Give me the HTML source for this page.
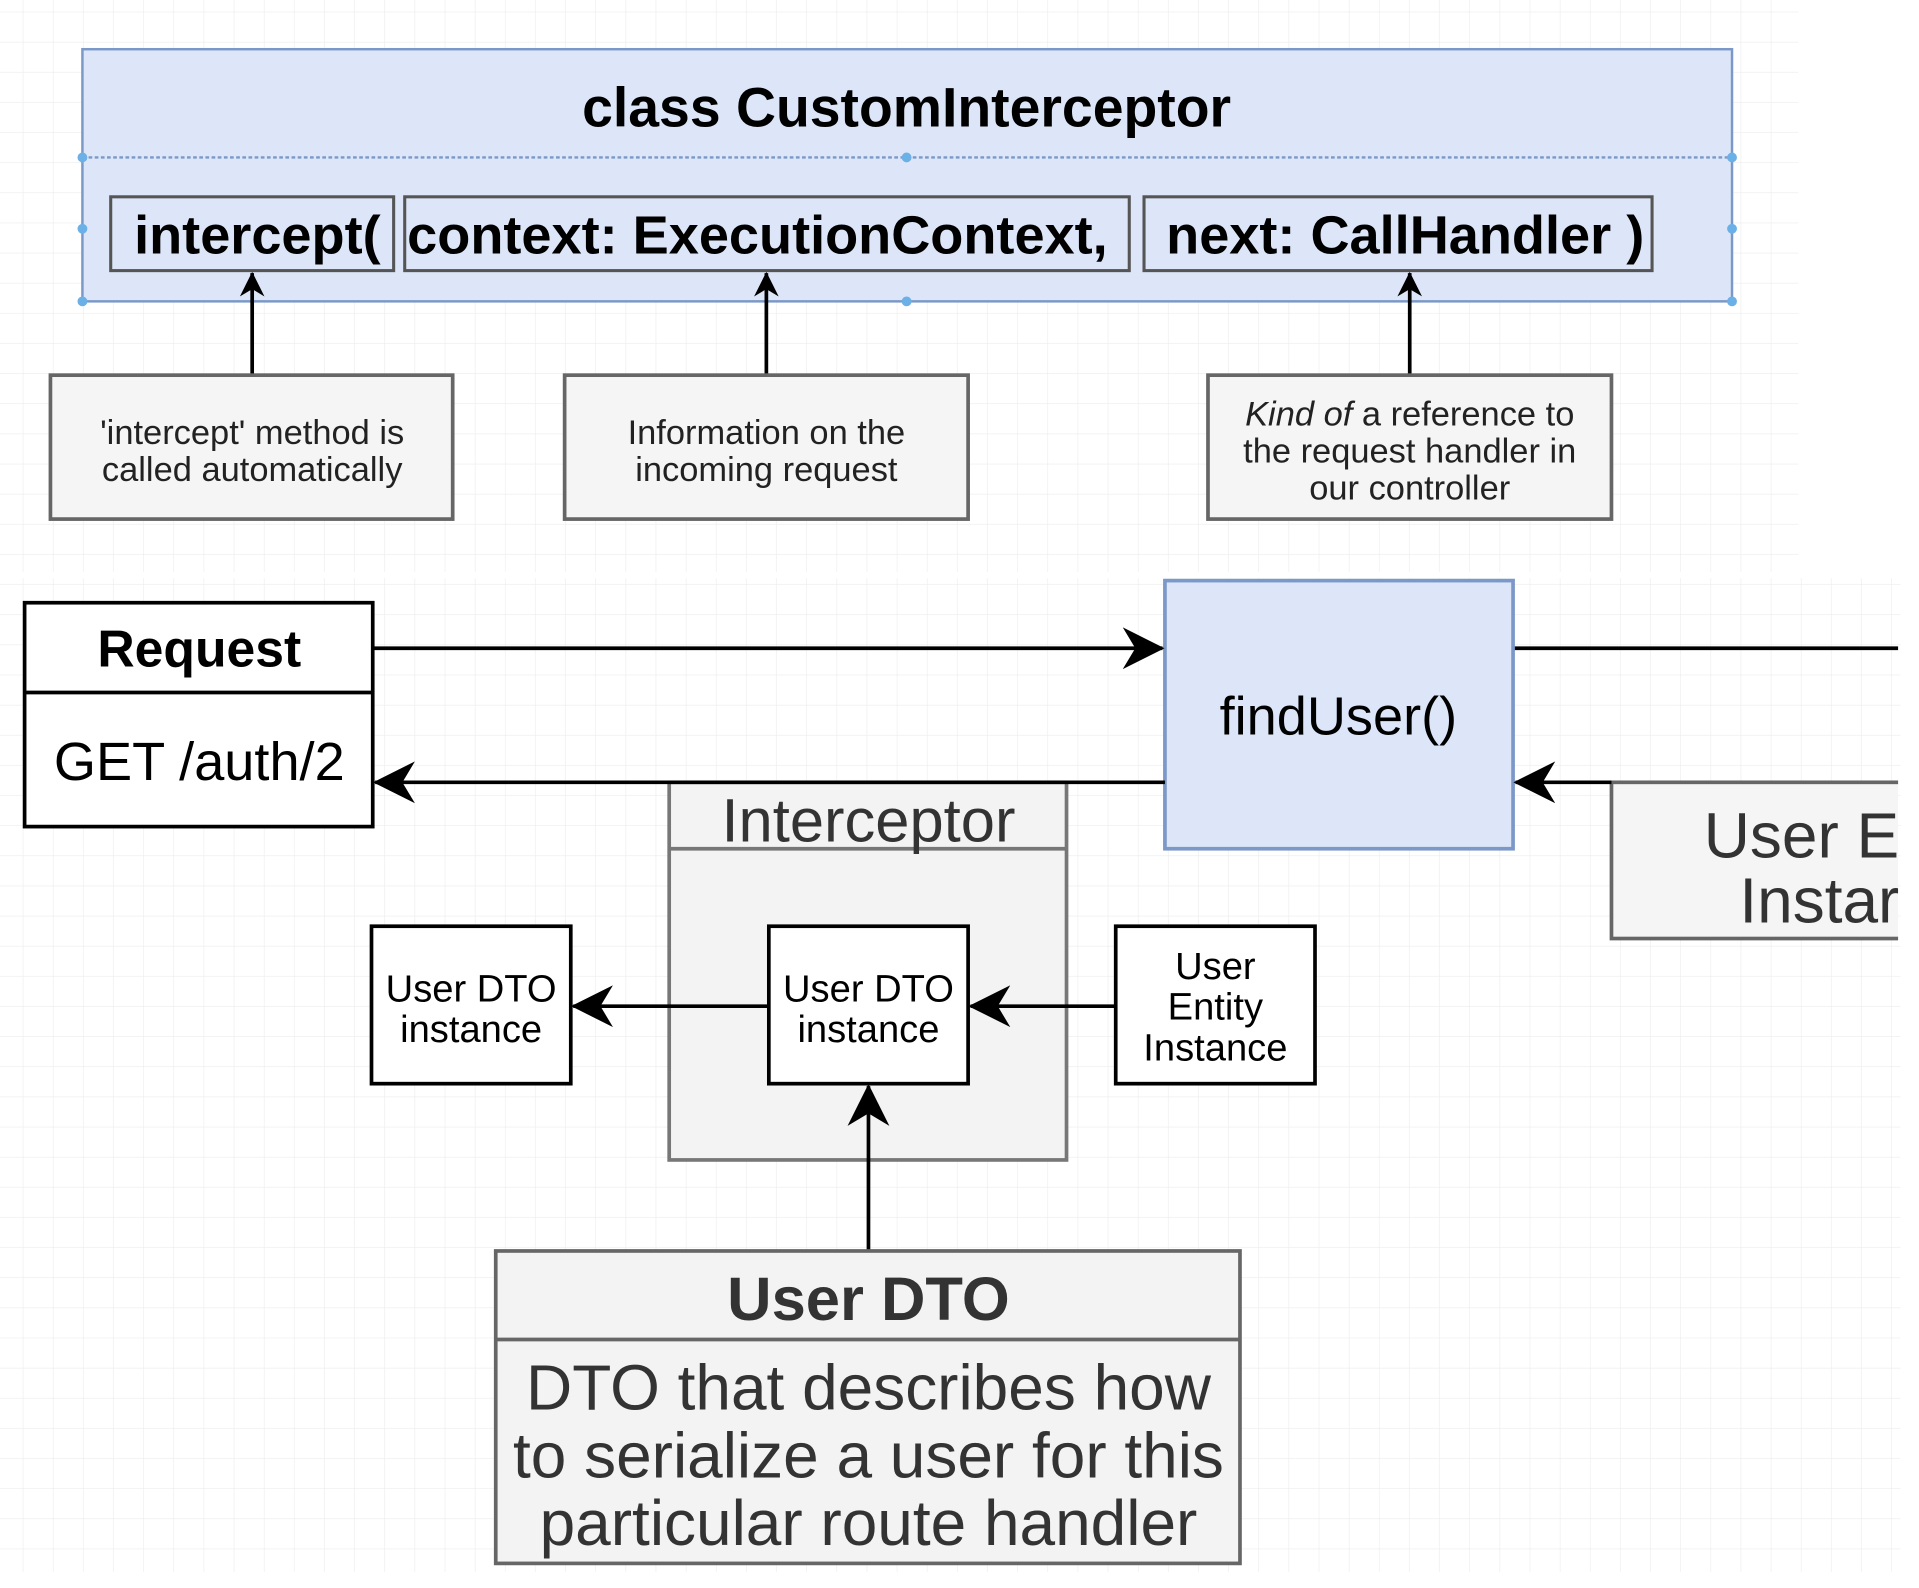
<!DOCTYPE html>
<html><head><meta charset="utf-8"><style>
html,body{margin:0;padding:0;background:#fff;overflow:hidden}
svg{display:block}
text{font-family:"Liberation Sans",sans-serif}
</style></head><body>
<svg width="1919" height="1588" viewBox="0 0 1560 1291" preserveAspectRatio="none" xmlns="http://www.w3.org/2000/svg">
<defs>
<pattern id="g" width="24.5" height="24.5" patternUnits="userSpaceOnUse" x="19" y="10">
<path d="M24.5 0V24.5H0" fill="none" stroke="#ececec" stroke-width="1"/>
</pattern>
<marker id="a" viewBox="0 0 20 20" refX="19" refY="10" markerWidth="20" markerHeight="20" markerUnits="userSpaceOnUse" orient="auto">
<path d="M0 0 L20 10 L0 20 L6 10 Z" fill="#000"/></marker>
<marker id="b" viewBox="0 0 20 20" refX="19" refY="10" markerWidth="34" markerHeight="34" markerUnits="userSpaceOnUse" orient="auto">
<path d="M0 0 L20 10 L0 20 L6 10 Z" fill="#000"/></marker>
<clipPath id="c"><rect x="0" y="0" width="1543" height="1291"/></clipPath>
<clipPath id="p2"><rect x="329" y="150" width="590" height="80"/></clipPath>
</defs>
<rect x="0" y="0" width="1462" height="465" fill="url(#g)"/>
<rect x="0" y="470" width="1545" height="808" fill="url(#g)"/>

<rect x="67" y="40" width="1341" height="205" fill="#dce6f8" stroke="#7b98c8" stroke-width="2"/>
<line x1="67" y1="128" x2="1408" y2="128" stroke="#7b98c8" stroke-width="2" stroke-dasharray="3,2"/>
<text x="737" y="103" font-size="45" font-weight="bold" text-anchor="middle">class CustomInterceptor</text>
<g fill="#dce6f8" stroke="#555" stroke-width="2.5">
<rect x="90" y="160" width="230" height="60"/>
<rect x="329" y="160" width="589" height="60"/>
<rect x="930" y="160" width="413" height="60"/>
</g>
<g font-size="44" font-weight="bold">
<text x="109" y="206">intercept(</text>
<text x="331" y="206" clip-path="url(#p2)">context: ExecutionContext,</text>
<text x="948" y="206">next: CallHandler )</text>
</g>
<g fill="#6cb0e8">
<circle cx="67" cy="128" r="4"/><circle cx="737" cy="128" r="4"/><circle cx="1408" cy="128" r="4"/>
<circle cx="67" cy="245" r="4"/><circle cx="737" cy="245" r="4"/><circle cx="1408" cy="245" r="4"/>
<circle cx="67" cy="186" r="4"/><circle cx="1408" cy="186" r="4"/>
</g>
<g stroke="#000" stroke-width="3">
<line x1="205" y1="305" x2="205" y2="222" marker-end="url(#a)"/>
<line x1="623" y1="305" x2="623" y2="222" marker-end="url(#a)"/>
<line x1="1146" y1="305" x2="1146" y2="222" marker-end="url(#a)"/>
</g>
<g fill="#f5f5f5" stroke="#666" stroke-width="3">
<rect x="41" y="305" width="327" height="117"/>
<rect x="459" y="305" width="328" height="117"/>
<rect x="982" y="305" width="328" height="117"/>
</g>
<g font-size="28" text-anchor="middle" fill="#222">
<text x="205" y="361">'intercept' method is</text>
<text x="205" y="391">called automatically</text>
<text x="623" y="361">Information on the</text>
<text x="623" y="391">incoming request</text>
<text x="1146" y="346"><tspan font-style="italic">Kind of</tspan> a reference to</text>
<text x="1146" y="376">the request handler in</text>
<text x="1146" y="406">our controller</text>
</g>

<g clip-path="url(#c)">
<rect x="1310" y="636" width="260" height="127" fill="#f5f5f5" stroke="#666" stroke-width="3"/>
<text x="1385" y="697" font-size="52" fill="#333">User E</text>
<text x="1414" y="750" font-size="52" fill="#333">Instar</text>
<line x1="1230" y1="527" x2="1560" y2="527" stroke="#000" stroke-width="3"/>
</g>
<rect x="20" y="490" width="283" height="182" fill="#fff" stroke="#000" stroke-width="3"/>
<line x1="20" y1="563" x2="303" y2="563" stroke="#000" stroke-width="3"/>
<text x="162" y="542" font-size="42" font-weight="bold" text-anchor="middle">Request</text>
<text x="162" y="634" font-size="44" text-anchor="middle">GET /auth/2</text>

<rect x="544" y="636" width="323" height="307" fill="#f3f3f3" stroke="#777" stroke-width="3"/>
<line x1="544" y1="690" x2="867" y2="690" stroke="#777" stroke-width="3"/>
<text x="706" y="684" font-size="50" text-anchor="middle" fill="#333">Interceptor</text>

<rect x="947" y="472" width="283" height="218" fill="#dce6f8" stroke="#7b98c8" stroke-width="3"/>
<text x="1088" y="597" font-size="44" text-anchor="middle">findUser()</text>

<g stroke="#000" stroke-width="3" fill="none">
<line x1="303" y1="527" x2="945" y2="527" marker-end="url(#b)"/>
<line x1="947" y1="636" x2="305" y2="636" marker-end="url(#b)"/>
<line x1="1310" y1="636" x2="1232" y2="636" marker-end="url(#b)"/>
<line x1="625" y1="818" x2="466" y2="818" marker-end="url(#b)"/>
<line x1="907" y1="818" x2="789" y2="818" marker-end="url(#b)"/>
<line x1="706" y1="1017" x2="706" y2="883" marker-end="url(#b)"/>
</g>
<g fill="#fff" stroke="#000" stroke-width="3">
<rect x="302" y="753" width="162" height="128"/>
<rect x="625" y="753" width="162" height="128"/>
<rect x="907" y="753" width="162" height="128"/>
</g>
<g font-size="31" text-anchor="middle">
<text x="383" y="814">User DTO</text><text x="383" y="847">instance</text>
<text x="706" y="814">User DTO</text><text x="706" y="847">instance</text>
<text x="988" y="796">User</text><text x="988" y="829">Entity</text><text x="988" y="862">Instance</text>
</g>

<rect x="403" y="1017" width="605" height="254" fill="#f3f3f3" stroke="#666" stroke-width="3"/>
<line x1="403" y1="1089" x2="1008" y2="1089" stroke="#666" stroke-width="3"/>
<text x="706" y="1073" font-size="50" font-weight="bold" text-anchor="middle" fill="#333">User DTO</text>
<g font-size="52" text-anchor="middle" fill="#333">
<text x="706" y="1146">DTO that describes how</text>
<text x="706" y="1201">to serialize a user for this</text>
<text x="706" y="1256">particular route handler</text>
</g>
</svg>
</body></html>
